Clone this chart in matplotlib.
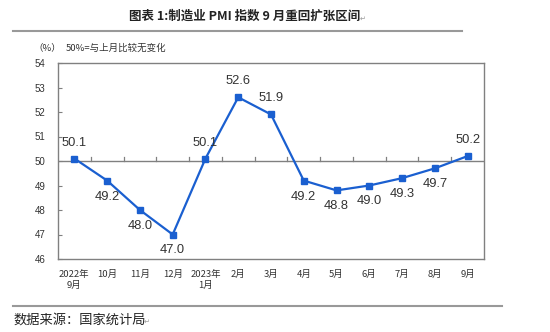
import matplotlib
matplotlib.use("Agg")
import matplotlib.pyplot as plt
from matplotlib.lines import Line2D

plt.rcParams['font.family'] = ['Noto Sans CJK SC', 'DejaVu Sans']

months = ["2022年\n9月", "10月", "11月", "12月", "2023年\n1月", "2月", "3月",
          "4月", "5月", "6月", "7月", "8月", "9月"]
pmi = [50.1, 49.2, 48.0, 47.0, 50.1, 52.6, 51.9, 49.2, 48.8, 49.0, 49.3, 49.7, 50.2]
yticks = [46, 47, 48, 49, 50, 51, 52, 53, 54]
baseline = 50

fig = plt.figure(figsize=(5.5, 3.32), dpi=100)
fig.patch.set_facecolor("white")
ax = fig.add_axes([58/550, 1-259/332, 426/550, 196/332])

x = list(range(len(months)))
ax.plot(x, pmi, color="#1a5fd0", lw=1.6, marker="s", markersize=4, zorder=3)
ax.set_xlim(-0.5, len(months)-0.5)
ax.set_ylim(yticks[0], yticks[-1])
ax.set_yticks(yticks)
ax.set_yticklabels([str(t) for t in yticks], family=['Liberation Sans'], fontsize=7, color="#333333")
ax.set_xticks(x)
ax.set_xticklabels(months, fontsize=6.8, color="#333333", linespacing=1.25)
ax.tick_params(axis="x", length=0, pad=8)
ax.tick_params(axis="y", direction="in", length=3, pad=9, color="#808080")
for s in ax.spines.values():
    s.set_color("#808080")
    s.set_linewidth(1.0)

ax.axhline(baseline, color="#808080", lw=1.0, zorder=2)
for i in range(len(months)-1):
    ax.plot([i+0.5, i+0.5], [baseline, baseline+0.15], color="#808080", lw=0.9, zorder=2)

for xi, v in zip(x, pmi):
    off = 11.5 if v >= baseline else -11.5
    ax.annotate(f"{v:.1f}", (xi, v), xytext=(0, off), textcoords="offset points",
                ha="center", va="center", fontsize=9.3, color="#333333",
                family=['Liberation Sans'])

fig.text(33/550, 1-48/332, "（%）", fontsize=6.8, color="#333333", va="center", ha="left")
fig.text(66/550, 1-48/332, "50%=与上月比较无变化", fontsize=6.8, color="#333333", va="center", ha="left")

title = fig.text(245/550, 1-16/332, "图表 1:制造业 PMI 指数 9 月重回扩张区间", fontsize=9.0,
                 fontweight="bold", color="#222222", ha="center", va="center")
fig.text(360/550, 1-19/332, "↵", fontsize=5, color="#999999", ha="left", va="center",
         family=['DejaVu Sans'])

fig.add_artist(Line2D([13/550, 462/550], [1-31/332, 1-31/332], color="#999999", lw=1.5,
                      transform=fig.transFigure))
fig.add_artist(Line2D([13/550, 502/550], [1-306/332, 1-306/332], color="#999999", lw=1.5,
                      transform=fig.transFigure))

fig.text(13/550, 1-320/332, "数据来源：国家统计局", fontsize=9.5, color="#222222",
         ha="left", va="center")
fig.text(144/550, 1-322/332, "↵", fontsize=5, color="#999999", ha="left", va="center",
         family=['DejaVu Sans'])

fig.savefig("out.png", dpi=100)
